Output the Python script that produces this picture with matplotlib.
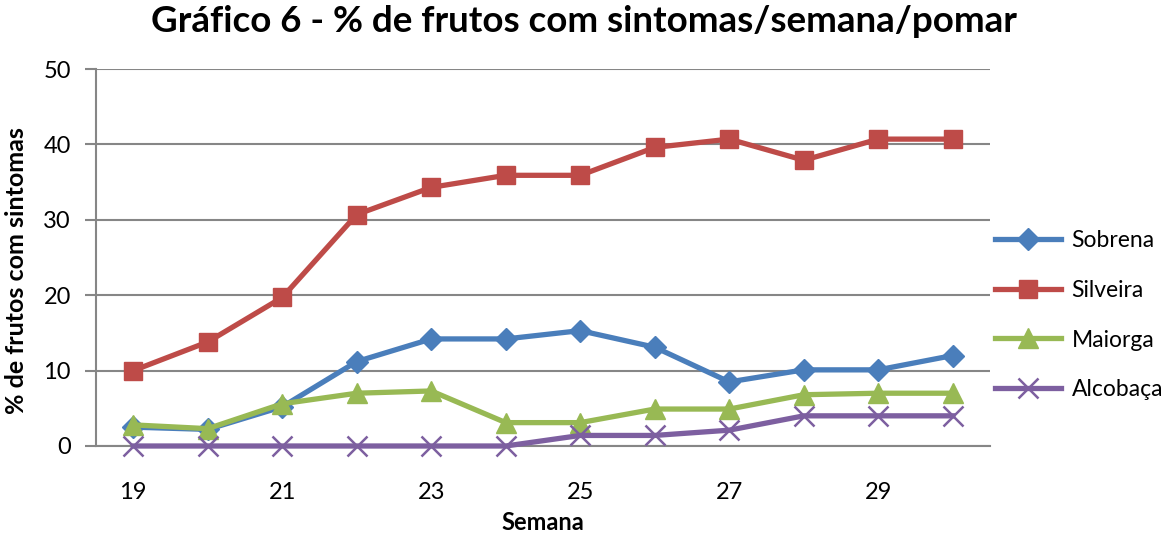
import matplotlib
matplotlib.use("Agg")
import matplotlib.pyplot as plt

weeks = [19, 20, 21, 22, 23, 24, 25, 26, 27, 28, 29, 30]
sobrena = [2.5, 2.2, 5.2, 11.2, 14.2, 14.2, 15.3, 13.1, 8.5, 10.1, 10.1, 12.0]
silveira = [10.0, 13.8, 19.7, 30.7, 34.3, 35.9, 35.9, 39.6, 40.7, 37.9, 40.7, 40.7]
maiorga = [2.8, 2.3, 5.6, 7.0, 7.3, 3.1, 3.1, 4.9, 4.9, 6.8, 7.0, 7.0]
alcobaca = [0, 0, 0, 0, 0, 0, 1.4, 1.4, 2.1, 4.0, 4.0, 4.0]
xticks = [19, 21, 23, 25, 27, 29]
yticks = [0, 10, 20, 30, 40, 50]

plt.rcParams['font.family'] = ['Lato', 'DejaVu Sans']

fig = plt.figure(figsize=(11.67, 5.34), dpi=100)
ax = fig.add_axes([96/1167, 88/534, (990-96)/1167, (446-69)/534])

grid_c = '#868686'
ax.set_xlim(18.5, 30.5)
ax.set_ylim(0, 50)
ax.set_yticks(yticks)
ax.set_xticks(xticks)
ax.grid(axis='y', color=grid_c, linewidth=1.5)
ax.set_axisbelow(True)
for s in ['top', 'right']:
    ax.spines[s].set_visible(False)
for s in ['left', 'bottom']:
    ax.spines[s].set_color(grid_c)
    ax.spines[s].set_linewidth(1.5)
ax.tick_params(axis='y', length=8, width=1.5, color=grid_c, labelsize=17, pad=10)
ax.tick_params(axis='x', length=0, labelsize=17, pad=26)

lw = 3.8
ax.plot(weeks, sobrena, color='#4A7EBB', lw=lw, marker='D', ms=11, label='Sobrena', zorder=3)
ax.plot(weeks, silveira, color='#BE4B48', lw=lw, marker='s', ms=13, label='Silveira', zorder=4)
ax.plot(weeks, maiorga, color='#98B954', lw=lw, marker='^', ms=14, label='Maiorga', zorder=3)
ax.plot(weeks, alcobaca, color='#7D5FA0', lw=lw, marker='x', ms=14, mew=1.8, label='Alcobaça', zorder=3, clip_on=False)

ax.set_xlabel('Semana', fontsize=17, fontweight='bold', labelpad=6)
ax.set_ylabel('% de frutos com sintomas', fontsize=18, fontweight='bold')
ax.yaxis.set_label_coords(-68/894, 0.5 - 13/377)
fig.suptitle('Gráfico 6 - % de frutos com sintomas/semana/pomar', fontsize=26.5, fontweight='bold', y=0.99)

leg = ax.legend(loc='center left', bbox_to_anchor=(0.995, 0.347), frameon=False,
                fontsize=16.5, handlelength=2.9, handletextpad=0.45, labelspacing=1.25, borderaxespad=0.0)

fig.savefig('out.png', dpi=100)
